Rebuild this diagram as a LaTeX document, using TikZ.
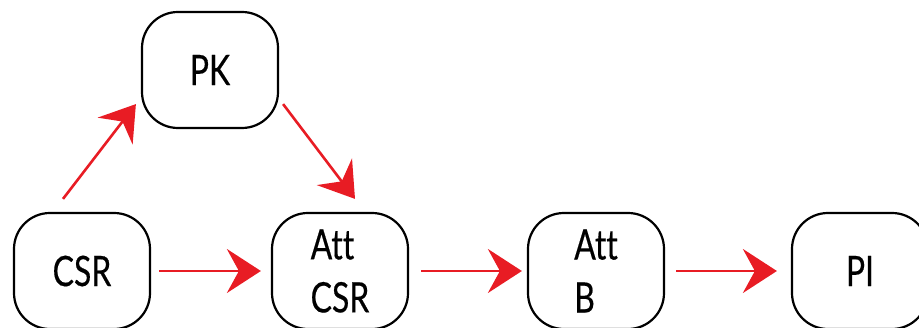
\documentclass[tikz,border=0pt]{standalone}
\usepackage{fontspec}
\setmainfont{Lato}[FakeStretch=0.76, FakeBold=0.4, RawFeature=-liga]
\usetikzlibrary{arrows.meta}
\definecolor{flowred}{RGB}{232,28,36}
\tikzset{
  stagebox/.style={draw=black, line width=2.2pt, rounded corners=36pt,
    minimum width=136pt, minimum height=116pt, inner sep=0pt,
    font=\fontsize{42}{53}\selectfont},
  flow/.style={draw=flowred, line width=2.6pt,
    -{Stealth[length=34pt, width=44pt, inset=12pt]}}
}
\begin{document}
\begin{tikzpicture}[x=1pt, y=-1pt]
  \useasboundingbox (0,0) rectangle (919,328);
  \clip (0,0) rectangle (919,328);
  % processing stages
  \node[stagebox] (pk)     at (210,70)  {PK};
  \node[stagebox] (csr)    at (82,271)  {CSR};
  \node[stagebox, align=left] (attcsr) at (340,271) {Att\\CSR};
  \node[stagebox, align=left] (attb)   at (596,271) {Att\\B};
  \node[stagebox] (pi)     at (860,271) {PI};
  % flow between stages
  \draw[flow] ([shift={(-19,-13)}]csr.north) -- ([shift={(-5,-25)}]pk.south west);
  \draw[flow] ([shift={(4,-25)}]pk.south east) -- ([shift={(15,-13)}]attcsr.north);
  \draw[flow] ([xshift=8pt]csr.east) -- ([xshift=-10pt]attcsr.west);
  \draw[flow] ([xshift=12pt]attcsr.east) -- ([xshift=-5pt]attb.west);
  \draw[flow] ([xshift=11pt]attb.east) -- ([xshift=-14pt]pi.west);
\end{tikzpicture}
\end{document}
